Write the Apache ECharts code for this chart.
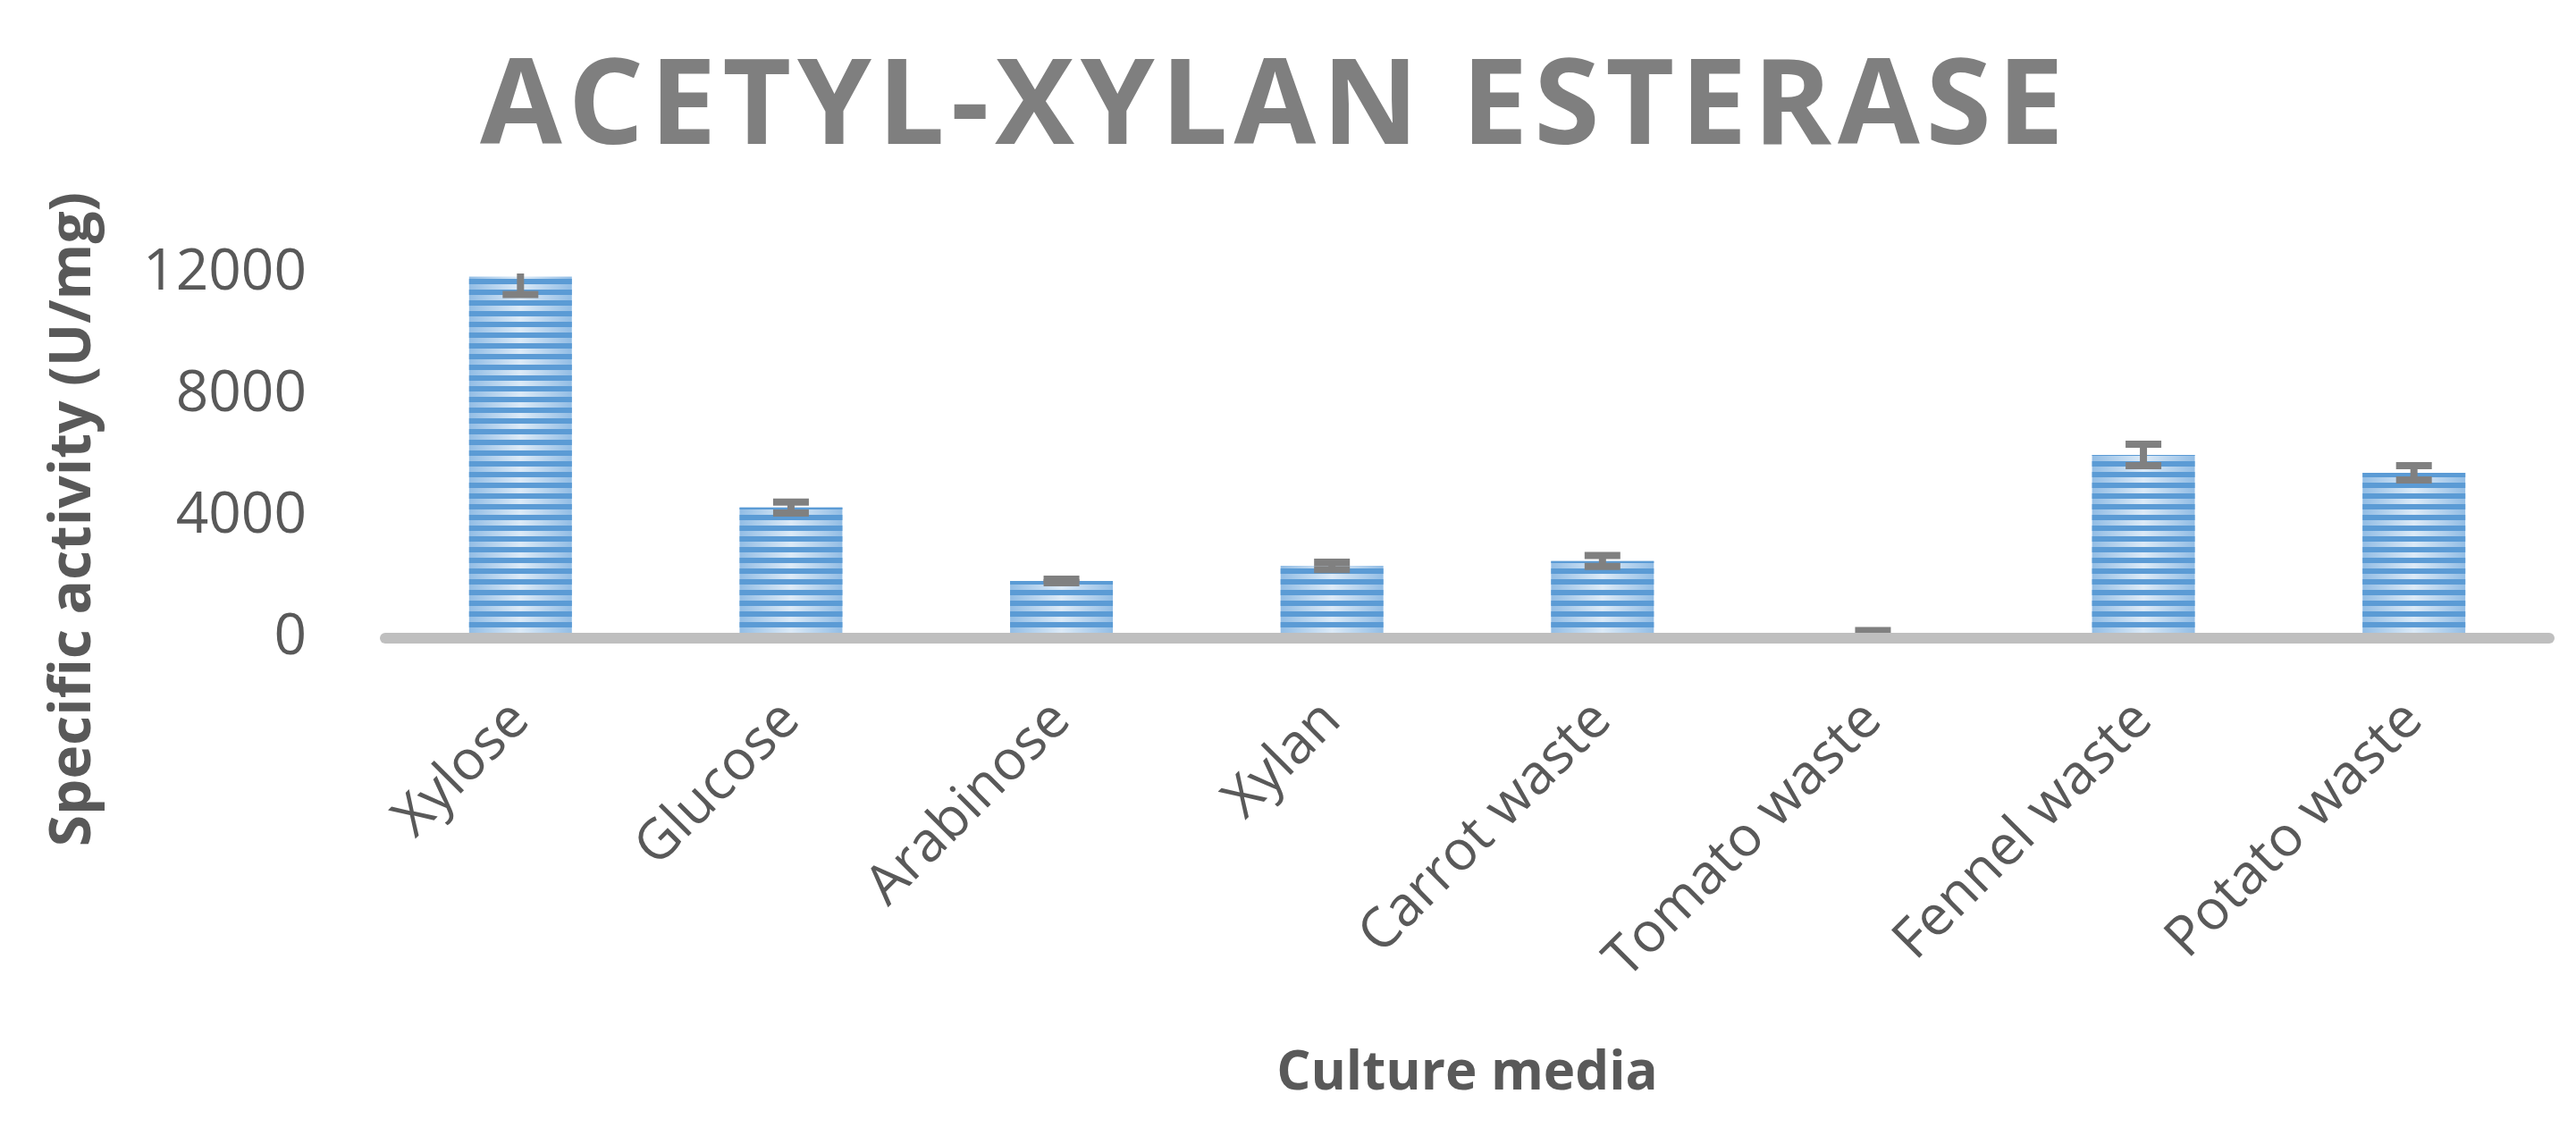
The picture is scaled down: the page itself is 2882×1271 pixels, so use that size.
<!DOCTYPE html>
<html>
<head>
<meta charset="utf-8">
<script src="https://cdn.jsdelivr.net/npm/echarts@6/dist/echarts.min.js"></script>
<style>
html,body{margin:0;padding:0;background:#fff;}
#chart{width:2882px;height:1271px;}
</style>
</head>
<body>
<div id="chart"></div>
<script>
// ---- data ----
const categories = ['Xylose','Glucose','Arabinose','Xylan','Carrot waste','Tomato waste','Fennel waste','Potato waste'];
const activity = [11900, 4300, 1880, 2380, 2540, 150, 6030, 5440];
const errors = [590, 180, 60, 120, 180, 100, 350, 235];
const yTicks = [0, 4000, 8000, 12000];
const titleText = 'ACETYL-XYLAN ESTERASE';
const yTitle = 'Specific activity (U/mg)';
const xTitle = 'Culture media';

const chart = echarts.init(document.getElementById('chart'), null, {renderer:'canvas'});

const errData = categories.map((c,i)=>[i, activity[i], errors[i]]);
const spacedTitle = titleText.split('').join('{s| }');

const option = {
  backgroundColor:'#ffffff',
  animation:false,
  aria:{enabled:true, decal:{show:true}},
  title:{
    text: spacedTitle,
    left: 1418,
    textAlign:'center',
    top: 52,
    textStyle:{fontFamily:'Open Sans', fontWeight:'bold', fontSize:133, color:'#7F7F7F',
      rich:{s:{fontSize:26, fontFamily:'Open Sans'}}}
  },
  grid:{left:431, right:30, top:306, bottom:557, containLabel:false},
  xAxis:{
    type:'category',
    data:categories,
    z:10,
    axisLine:{show:true, lineStyle:{color:'#BFBFBF', width:12}},
    axisTick:{show:false},
    axisLabel:{rotate:45, margin:82, interval:0, color:'#595959', fontFamily:'Open Sans', fontSize:62},
    name:xTitle,
    nameLocation:'middle',
    nameGap:458,
    nameTextStyle:{color:'#595959', fontFamily:'Open Sans', fontWeight:'bold', fontSize:60}
  },
  yAxis:{
    type:'value',
    min:0, max:12000, interval:4000,
    axisLine:{show:false},
    axisTick:{show:false},
    splitLine:{show:false},
    axisLabel:{margin:88, color:'#595959', fontFamily:'Open Sans', fontSize:64,
      formatter:(v)=> yTicks.includes(v) ? String(v) : ''}
  },
  graphic:[{
    type:'text',
    x:83, y:581,
    rotation:Math.PI/2,
    style:{text:yTitle, fill:'#595959', font:'bold 64px "Open Sans"', align:'center', verticalAlign:'middle'}
  }],
  series:[
    {
      type:'bar',
      data:activity,
      barWidth:115,
      z:2,
      itemStyle:{
        color:{type:'linear', x:0, y:0, x2:1, y2:0, colorStops:[
          {offset:0, color:'#92BDE5'},{offset:0.5, color:'#DCEAF7'},{offset:1, color:'#92BDE5'}]},
        decal:{symbol:'rect', symbolSize:1, dashArrayX:[1,0], dashArrayY:[6,6], rotation:0, color:'#5B9BD5'}
      }
    },
    {
      type:'custom',
      data:errData,
      z:5,
      renderItem:(params, api)=>{
        const i = api.value(0), v = api.value(1), e = api.value(2);
        const hi = api.coord([i, v+e]);
        const lo = api.coord([i, v-e]);
        const top = params.coordSys.y;
        const x = hi[0];
        const children = [];
        const stemTop = Math.max(hi[1], top);
        children.push({type:'rect', shape:{x:x-4, y:stemTop, width:8, height:lo[1]-stemTop}, style:{fill:'#808080'}});
        if (hi[1] >= top) children.push({type:'rect', shape:{x:x-20, y:hi[1]-4, width:40, height:8}, style:{fill:'#808080'}});
        children.push({type:'rect', shape:{x:x-20, y:lo[1]-4, width:40, height:8}, style:{fill:'#808080'}});
        return {type:'group', children};
      }
    }
  ]
};
chart.setOption(option);
</script>
</body>
</html>
